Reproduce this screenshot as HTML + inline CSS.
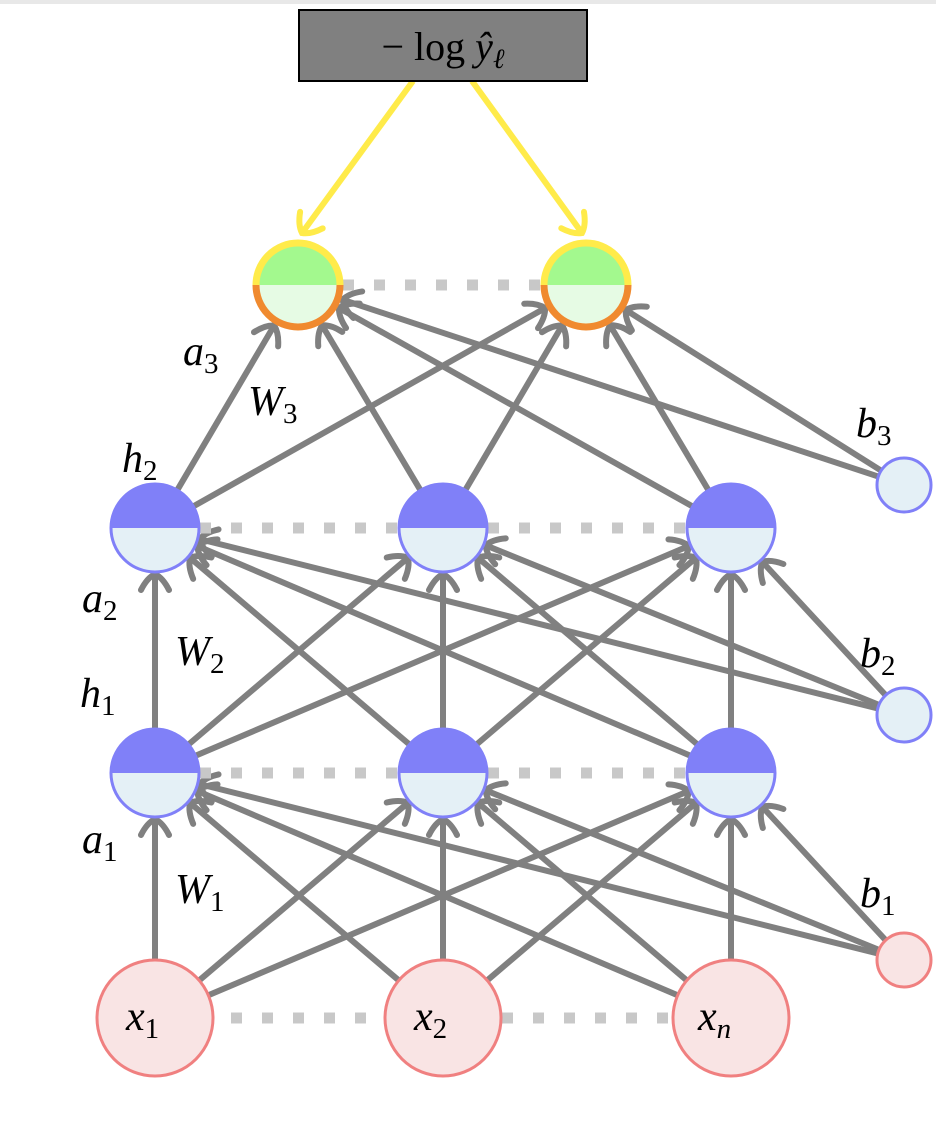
<!DOCTYPE html>
<html><head><meta charset="utf-8"><style>
html,body{margin:0;padding:0;background:#fff;width:936px;height:1124px;overflow:hidden}
svg text{font-family:"Liberation Serif",serif;font-style:italic;fill:#000}
</style></head><body>
<svg id="s" width="936" height="1124" viewBox="0 0 936 1124" xmlns="http://www.w3.org/2000/svg">
<defs>
<marker id="ag" markerUnits="userSpaceOnUse" markerWidth="40" markerHeight="40" refX="20" refY="20" orient="auto" viewBox="0 0 40 40">
<path d="M4,6 Q16,12 20,20 Q16,28 4,34" fill="none" stroke="#808080" stroke-width="6" stroke-linecap="round"/>
</marker>
<marker id="ay" markerUnits="userSpaceOnUse" markerWidth="40" markerHeight="40" refX="20" refY="20" orient="auto" viewBox="0 0 40 40">
<path d="M4,6 Q16,12 20,20 Q16,28 4,34" fill="none" stroke="#ffeb4a" stroke-width="6" stroke-linecap="round"/>
</marker>
</defs>
<rect x="0" y="0" width="936" height="4" fill="#e8e8e8"/>
<g id="edges"></g>
<g stroke="#c8c8c8" stroke-width="11" stroke-dasharray="11 20">
<line x1="200" y1="1018" x2="385" y2="1018"/><line x1="502" y1="1018" x2="673" y2="1018"/>
<line x1="200" y1="773" x2="399" y2="773"/><line x1="488" y1="773" x2="687" y2="773"/>
<line x1="200" y1="528" x2="399" y2="528"/><line x1="488" y1="528" x2="687" y2="528"/>
<line x1="343" y1="285" x2="541" y2="285"/>
</g>
<g id="nodes"></g>
<rect x="299" y="10" width="288" height="71" fill="#808080" stroke="#000" stroke-width="2"/>
<text x="443" y="60" text-anchor="middle" font-size="40" style="font-style:normal">− log <tspan style="font-style:italic">ŷ</tspan><tspan font-size="28" dy="8" style="font-style:italic">ℓ</tspan></text>
<g font-size="42">
<text x="183" y="365">a<tspan font-size="29" dy="8" style="font-style:normal">3</tspan></text>
<text x="248" y="415">W<tspan font-size="29" dy="8" style="font-style:normal">3</tspan></text>
<text x="122" y="472">h<tspan font-size="29" dy="8" style="font-style:normal">2</tspan></text>
<text x="82" y="612">a<tspan font-size="29" dy="8" style="font-style:normal">2</tspan></text>
<text x="175" y="665">W<tspan font-size="29" dy="8" style="font-style:normal">2</tspan></text>
<text x="80" y="707">h<tspan font-size="29" dy="8" style="font-style:normal">1</tspan></text>
<text x="82" y="853">a<tspan font-size="29" dy="8" style="font-style:normal">1</tspan></text>
<text x="175" y="903">W<tspan font-size="29" dy="8" style="font-style:normal">1</tspan></text>
<text x="856" y="437">b<tspan font-size="29" dy="8" style="font-style:normal">3</tspan></text>
<text x="860" y="667">b<tspan font-size="29" dy="8" style="font-style:normal">2</tspan></text>
<text x="860" y="907">b<tspan font-size="29" dy="8" style="font-style:normal">1</tspan></text>
<text x="126" y="1030">x<tspan font-size="29" dy="8" style="font-style:normal">1</tspan></text>
<text x="414" y="1030">x<tspan font-size="29" dy="8" style="font-style:normal">2</tspan></text>
<text x="698" y="1030">x<tspan font-size="29" dy="8">n</tspan></text>
</g>
<script>
(function(){
var NS="http://www.w3.org/2000/svg";
var E=document.getElementById("edges"),N=document.getElementById("nodes");
function el(t,a,p){var e=document.createElementNS(NS,t);for(var k in a)e.setAttribute(k,a[k]);p.appendChild(e);return e;}
var X=[155,443,731];
var inp=X.map(function(x){return{x:x,y:1018,r:58}});
var h1=X.map(function(x){return{x:x,y:773,r:44}});
var h2=X.map(function(x){return{x:x,y:528,r:44}});
var out=[{x:298,y:285,r:45},{x:586,y:285,r:45}];
var b1={x:904,y:960,r:27},b2={x:904,y:715,r:27},b3={x:904,y:485,r:27};
function edge(a,b,col,m){var dx=b.x-a.x,dy=b.y-a.y,d=Math.sqrt(dx*dx+dy*dy);
el("line",{x1:a.x+dx/d*a.r,y1:a.y+dy/d*a.r,x2:b.x-dx/d*(b.r+2),y2:b.y-dy/d*(b.r+2),stroke:col,"stroke-width":6,"marker-end":"url(#"+m+")"},E);}
function full(src,dst){src.forEach(function(s){dst.forEach(function(d){edge(s,d,"#808080","ag")})})}
full(inp.concat([b1]),h1);full(h1.concat([b2]),h2);full(h2.concat([b3]),out);
el("line",{x1:413,y1:81,x2:302,y2:233,stroke:"#ffeb4a","stroke-width":6,"marker-end":"url(#ay)"},E);
el("line",{x1:472,y1:81,x2:582,y2:233,stroke:"#ffeb4a","stroke-width":6,"marker-end":"url(#ay)"},E);
function half(n,topF,botF,topS,botS,sw){
var x=n.x,y=n.y,r=n.r;
el("path",{d:"M"+(x-r)+","+y+" A"+r+","+r+" 0 0 1 "+(x+r)+","+y+" Z",fill:topF},N);
el("path",{d:"M"+(x-r)+","+y+" A"+r+","+r+" 0 0 0 "+(x+r)+","+y+" Z",fill:botF},N);
el("path",{d:"M"+(x-r)+","+y+" A"+r+","+r+" 0 0 1 "+(x+r)+","+y,fill:"none",stroke:topS,"stroke-width":sw},N);
el("path",{d:"M"+(x-r)+","+y+" A"+r+","+r+" 0 0 0 "+(x+r)+","+y,fill:"none",stroke:botS,"stroke-width":sw},N);}
h1.concat(h2).forEach(function(n){half(n,"#8080f8","#e4f0f6","#8080f8","#8080f8",3)});
out.forEach(function(n){half({x:n.x,y:n.y,r:n.r-3},"#a3f98e","#e6fbe4","#ffeb4a","#f08a2f",7)});
[b2,b3].forEach(function(n){el("circle",{cx:n.x,cy:n.y,r:n.r,fill:"#e4f0f6",stroke:"#8080f8","stroke-width":3},N)});
inp.concat([b1]).forEach(function(n){el("circle",{cx:n.x,cy:n.y,r:n.r,fill:"#f9e4e4",stroke:"#f08080","stroke-width":3},N)});
})();
</script>
</svg>
</body></html>
